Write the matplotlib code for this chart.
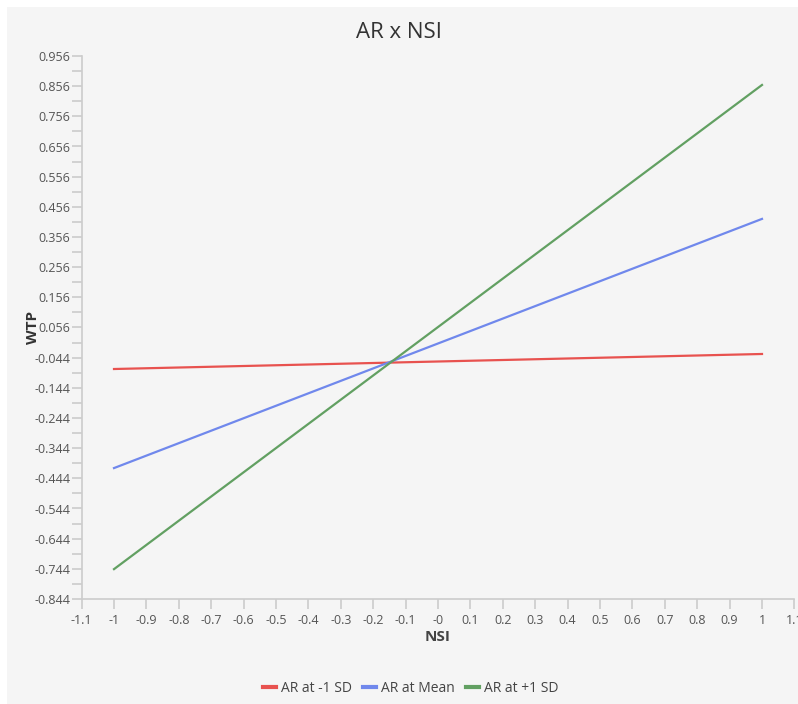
import matplotlib.pyplot as plt
from matplotlib.patches import Rectangle
from matplotlib.lines import Line2D

plt.rcParams['font.family'] = ['Open Sans', 'DejaVu Sans']

nsi = [-1, 1]
low_sd = [-0.0816, -0.0318]
mean_ar = [-0.410, 0.416]
high_sd = [-0.745, 0.860]

series = ["AR at -1 SD", "AR at Mean", "AR at +1 SD"]
colors = ["#e8524f", "#7088ec", "#62a062"]

xticks = [-1.1, -1.0, -0.9, -0.8, -0.7, -0.6, -0.5, -0.4, -0.3, -0.2, -0.1, 0.0,
          0.1, 0.2, 0.3, 0.4, 0.5, 0.6, 0.7, 0.8, 0.9, 1.0, 1.1]
xlabels = ["-1.1", "-1", "-0.9", "-0.8", "-0.7", "-0.6", "-0.5", "-0.4", "-0.3", "-0.2",
           "-0.1", "-0", "0.1", "0.2", "0.3", "0.4", "0.5", "0.6", "0.7", "0.8", "0.9",
           "1", "1.1"]
yticks = [0.956 - 0.1 * i for i in range(19)]
ylabels = ["%.3f" % v for v in yticks]

W, H = 798, 704
fig = plt.figure(figsize=(W / 100, H / 100), dpi=100, facecolor="white")
fig.patches.append(Rectangle((7 / W, 0), 1 - 7 / W, 1 - 7 / H, transform=fig.transFigure,
                             facecolor="#f5f5f5", edgecolor="none", zorder=-10))

ax = fig.add_axes([81.6 / W, 1 - 599 / H, (794.4 - 81.6) / W, (599 - 56) / H])
ax.patch.set_alpha(0)

for ys, c, lab in zip([low_sd, mean_ar, high_sd], colors, series):
    ax.plot(nsi, ys, color=c, lw=1.6, label=lab)

ax.set_xlim(-1.1, 1.1)
ax.set_ylim(-0.844, 0.956)
ax.set_xticks(xticks)
ax.set_xticklabels(xlabels)
ax.set_yticks(yticks)
ax.set_yticklabels(ylabels)
ax.set_yticks([0.906 - 0.1 * i for i in range(18)], minor=True)

for s in ["top", "right"]:
    ax.spines[s].set_visible(False)
for s in ["left", "bottom"]:
    ax.spines[s].set_color("#cccccc")
    ax.spines[s].set_linewidth(1.2)
ax.tick_params(axis="both", which="major", colors="#cccccc", labelcolor="#555555",
               labelsize=9, length=7, width=1.2)
ax.tick_params(axis="y", which="minor", colors="#cccccc", length=7, width=1.2)
ax.tick_params(axis="y", pad=1)

ax.set_xlabel("NSI", fontsize=11, fontweight="bold", color="#444444")
ax.set_ylabel("WTP", fontsize=11, fontweight="bold", color="#333333")
ax.xaxis.set_label_coords(0.5, (599 - 637) / 543, transform=ax.transAxes)
ax.yaxis.set_label_coords((33 - 81.6) / 712.8, 0.5, transform=ax.transAxes)
ax.xaxis.label.set_va("center")
ax.yaxis.label.set_va("center")
fig.text(0.5, 1 - 32 / H, "AR x NSI", ha="center", va="center", fontsize=16, color="#333333")

handles = [Line2D([0], [0], color=c, lw=3) for c in colors]
fig.legend(handles, series, loc="center", bbox_to_anchor=(0.515, 1 - 688 / H), ncol=3,
           frameon=False, fontsize=10, handlelength=0.9, handletextpad=0.4,
           columnspacing=0.8, labelcolor="#444444")

fig.savefig("out.png", dpi=100, facecolor=fig.get_facecolor())
